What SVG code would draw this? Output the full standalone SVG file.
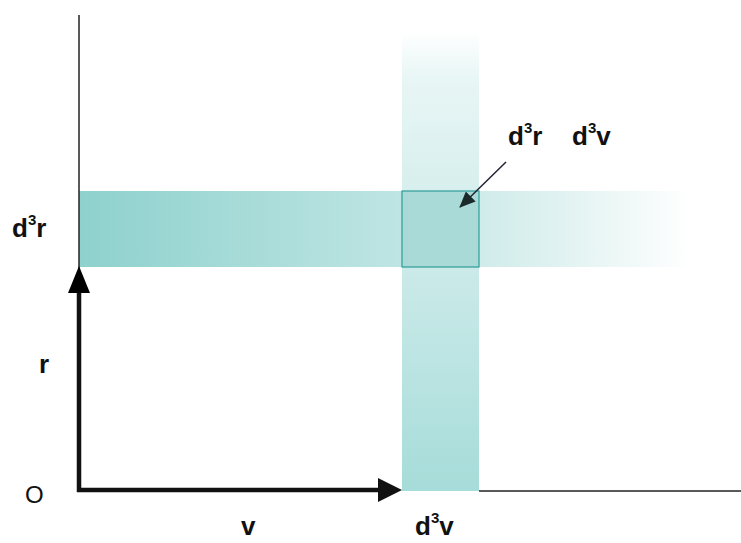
<svg xmlns="http://www.w3.org/2000/svg" width="741" height="543" viewBox="0 0 741 543">
<style>
.lb{font-family:"Liberation Sans",Arial,sans-serif;font-weight:bold;font-size:26px;fill:#111}
.sup{font-size:15px}
.rg{font-family:"Liberation Sans",Arial,sans-serif;font-size:24px;fill:#111}
.thin{stroke:#222;stroke-width:1.5;fill:none}
.thick{stroke:#111;stroke-width:4.5;fill:none}
</style>
<defs>
<linearGradient id="gh" x1="0" y1="0" x2="1" y2="0">
<stop offset="0" stop-color="#8ED1CD"/>
<stop offset="0.5" stop-color="#BCE4E2"/>
<stop offset="0.8" stop-color="#E2F3F2"/>
<stop offset="1" stop-color="#FFFFFF"/>
</linearGradient>
<linearGradient id="gv" x1="0" y1="1" x2="0" y2="0">
<stop offset="0" stop-color="#A6DCD9"/>
<stop offset="0.55" stop-color="#D0ECEB"/>
<stop offset="0.9" stop-color="#E8F6F5"/>
<stop offset="1" stop-color="#FFFFFF"/>
</linearGradient>
<marker id="ah" markerWidth="16" markerHeight="14" refX="15" refY="7" orient="auto" markerUnits="userSpaceOnUse" viewBox="0 0 16 14">
<path d="M0,0 L16,7 L0,14 z" fill="#1a2a2a"/>
</marker>
</defs>
<g id="bands">
<rect x="79" y="191" width="613" height="76" fill="url(#gh)"/>
<rect x="402" y="32" width="77" height="459" fill="url(#gv)"/>
</g>
<g id="cell">
<rect x="402" y="191" width="77" height="76" fill="#A9DAD8" stroke="#2E9C97" stroke-width="1.2"/>
</g>
<g id="connectors">
<line class="thin" x1="79" y1="15" x2="79" y2="292"/>
<line class="thick" x1="79" y1="292" x2="79" y2="492"/>
<path d="M79,266 L90,293 L68,293 z" fill="#000"/>
<line class="thick" x1="77" y1="490" x2="380" y2="490"/>
<path d="M402,490 L378,478 L378,502 z" fill="#111"/>
<line class="thin" x1="479" y1="491" x2="741" y2="491"/>
<line x1="506" y1="162" x2="460" y2="207" stroke="#223" stroke-width="1.5" marker-end="url(#ah)"/>
</g>
<g id="labels">
<text class="lb" x="12" y="237">d<tspan class="sup" dy="-12">3</tspan><tspan dy="12">r</tspan></text>
<text class="lb" x="508" y="145">d<tspan class="sup" dy="-12">3</tspan><tspan dy="12">r</tspan></text>
<text class="lb" x="572" y="145">d<tspan class="sup" dy="-12">3</tspan><tspan dy="12">v</tspan></text>
<text class="lb" x="39" y="373" font-size="28">r</text>
<text class="rg" x="25" y="503">O</text>
<text class="lb" x="241" y="535">v</text>
<text class="lb" x="415" y="535">d<tspan class="sup" dy="-12">3</tspan><tspan dy="12">v</tspan></text>
</g>
</svg>
